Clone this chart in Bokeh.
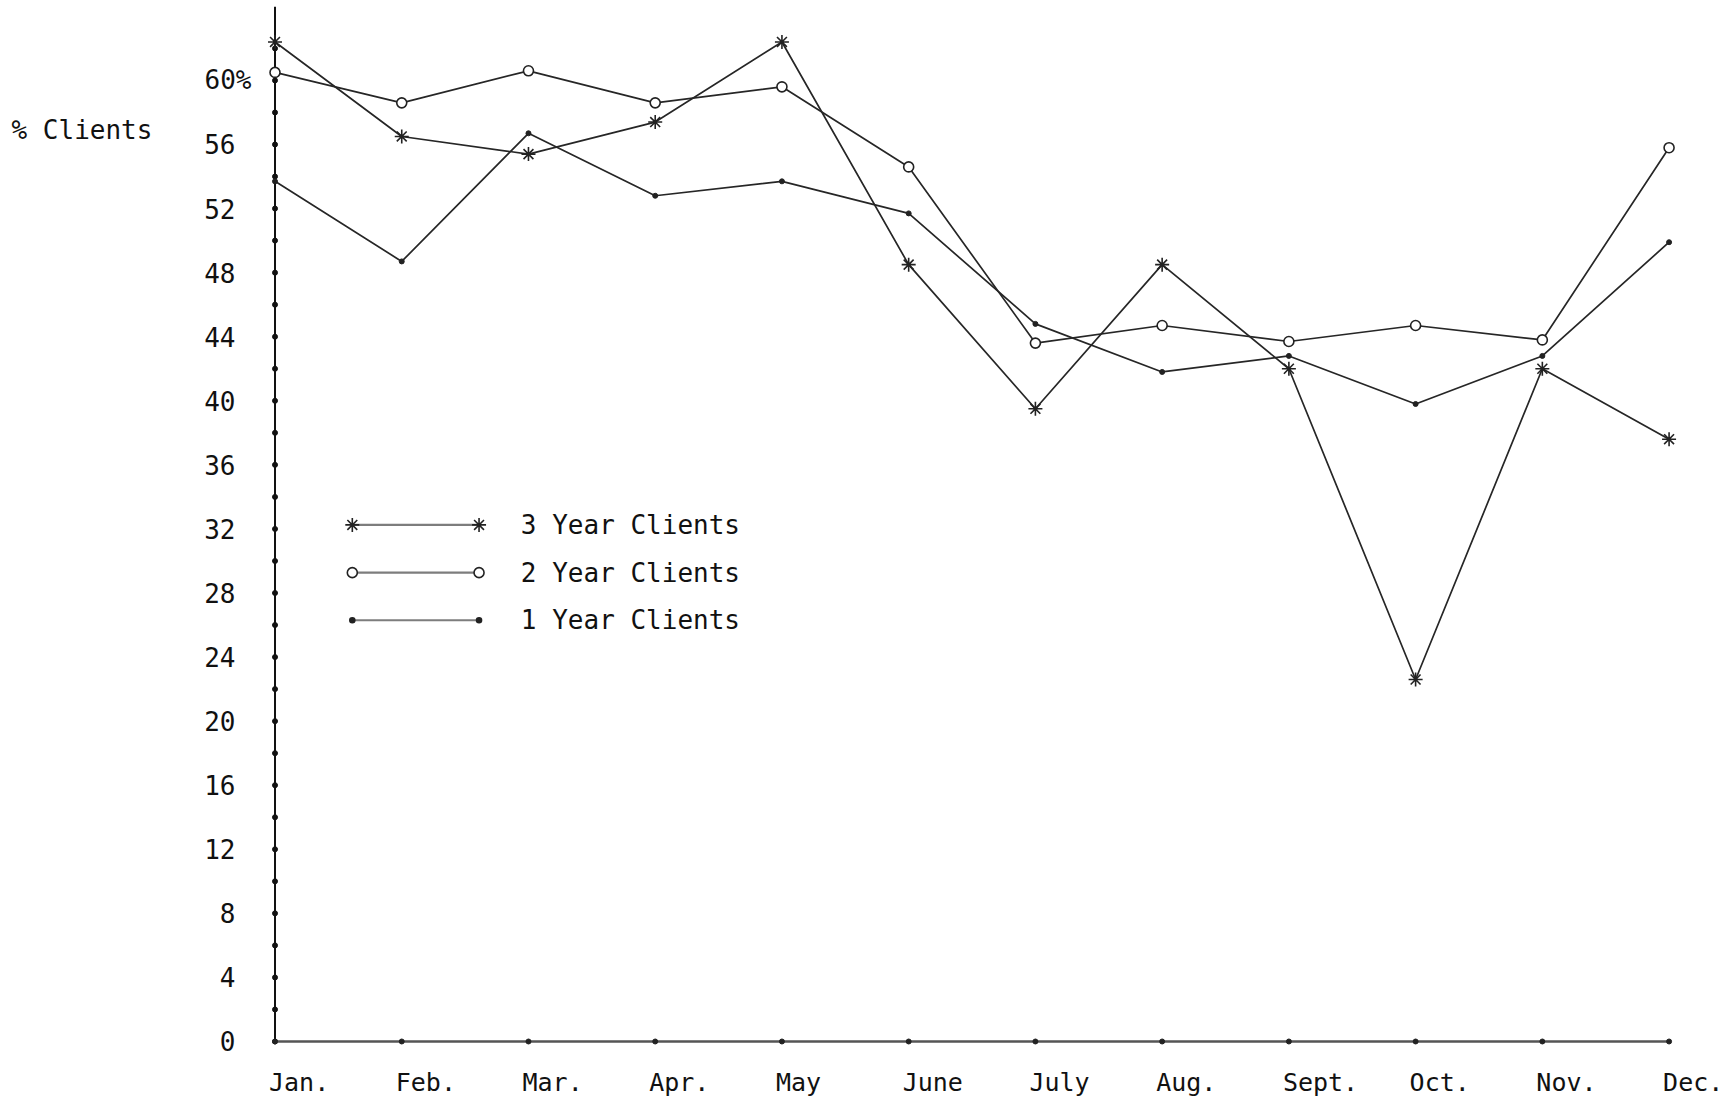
from bokeh.plotting import figure
from bokeh.models import ColumnDataSource
from bokeh.core.properties import value
from bokeh.embed import file_html
from bokeh.resources import INLINE

# ---------------- data ----------------
months = ["Jan.", "Feb.", "Mar.", "Apr.", "May", "June",
          "July", "Aug.", "Sept.", "Oct.", "Nov.", "Dec."]
three_year = [62.4, 56.5, 55.4, 57.4, 62.4, 48.5, 39.5, 48.5, 42.0, 22.6, 42.0, 37.6]
two_year = [60.5, 58.6, 60.6, 58.6, 59.6, 54.6, 43.6, 44.7, 43.7, 44.7, 43.8, 55.8]
one_year = [53.7, 48.7, 56.7, 52.8, 53.7, 51.7, 44.8, 41.8, 42.8, 39.8, 42.8, 49.9]
baseline = [0] * 12
y_ticks = [0, 4, 8, 12, 16, 20, 24, 28, 32, 36, 40, 44, 48, 52, 56, 60]
y_tick_labels = ["0", "4", "8", "12", "16", "20", "24", "28", "32", "36",
                 "40", "44", "48", "52", "56", "60%"]
axis_dots = [0, 2, 4, 6, 8, 10, 12, 14, 16, 18, 20, 22, 24, 26, 28, 30,
             32, 34, 36, 38, 40, 42, 44, 46, 48, 50, 52, 54, 56, 58, 60, 62]
legend_labels = ["3 Year Clients", "2 Year Clients", "1 Year Clients"]
y_label = "% Clients"

# ---------------- layout constants ----------------
FONT = "DejaVu Sans Mono"
INK = "#262626"
GREY = "#7d7d7d"
TXT = "#111111"
x_idx = list(range(len(months)))
AXIS_TOP = 64.6
TICK_LABEL_X = -0.312
LEG_X0, LEG_X1, LEG_TX = 0.61, 1.61, 1.94
LEG_Y = [32.25, 29.27, 26.30]
YLAB_X, YLAB_Y = -2.079, 56.88

p = figure(width=1736, height=1103,
           x_range=(-2.166, 11.532), y_range=(-3.871, 64.99),
           x_axis_location=None, y_axis_location=None,
           output_backend="svg", toolbar_location=None,
           min_border_left=0, min_border_right=0,
           min_border_top=0, min_border_bottom=0)
p.grid.visible = False
p.outline_line_color = None
p.background_fill_color = "white"
p.border_fill_color = "white"

# y axis: line, dots, tick labels
p.segment(x0=[0], y0=[0], x1=[0], y1=[AXIS_TOP], line_color="#111111", line_width=2)
p.scatter(x=[0] * len(axis_dots), y=axis_dots, size=5, color="#111111")
tick_src = ColumnDataSource(dict(
    x=[TICK_LABEL_X] * len(y_ticks), y=y_ticks, text=y_tick_labels,
    xo=[16 if t.endswith("%") else 0 for t in y_tick_labels]))
p.text(x="x", y="y", text="text", x_offset="xo", source=tick_src,
       text_font=value(FONT), text_font_size="26px", text_color=TXT,
       text_align="right", text_baseline="middle")

# baseline (0 line) with dots
p.line(x_idx, baseline, line_color="#555555", line_width=2.5)
p.scatter(x_idx, baseline, size=5, color="#222222")

# series
p.line(x_idx, one_year, line_color=INK, line_width=1.7)
p.line(x_idx, two_year, line_color=INK, line_width=1.7)
p.line(x_idx, three_year, line_color=INK, line_width=1.7)
p.scatter(x_idx, one_year, marker="circle", size=5, color="#222222")
p.scatter(x_idx, two_year, marker="circle", size=10, line_color="#222222",
          fill_color="white", line_width=1.6)
p.scatter(x_idx, three_year, marker="asterisk", size=14, line_color="#222222",
          line_width=1.6)

# month labels
p.text(x=x_idx, y=baseline, text=months, text_font=value(FONT),
       text_font_size="25px", text_color=TXT, text_align="left",
       text_baseline="middle", x_offset=-6, y_offset=41)

# legend
markers = [("asterisk", 14, "#222222"), ("circle", 10, "white"), ("circle", 5, "#222222")]
for i, lab in enumerate(legend_labels):
    yy = LEG_Y[i]
    p.line([LEG_X0, LEG_X1], [yy, yy], line_color=GREY, line_width=2.2)
    mk, sz, fc = markers[i]
    p.scatter([LEG_X0, LEG_X1], [yy, yy], marker=mk, size=sz, line_color="#222222",
              fill_color=fc, line_width=1.6)
    p.text(x=[LEG_TX], y=[yy], text=[lab], text_font=value(FONT), text_font_size="26px",
           text_color=TXT, text_align="left", text_baseline="middle")

# y label
p.text(x=[YLAB_X], y=[YLAB_Y], text=[y_label], text_font=value(FONT),
       text_font_size="26px", text_color=TXT, text_align="left", text_baseline="middle")

open("out.html", "w").write(file_html(p, INLINE))
